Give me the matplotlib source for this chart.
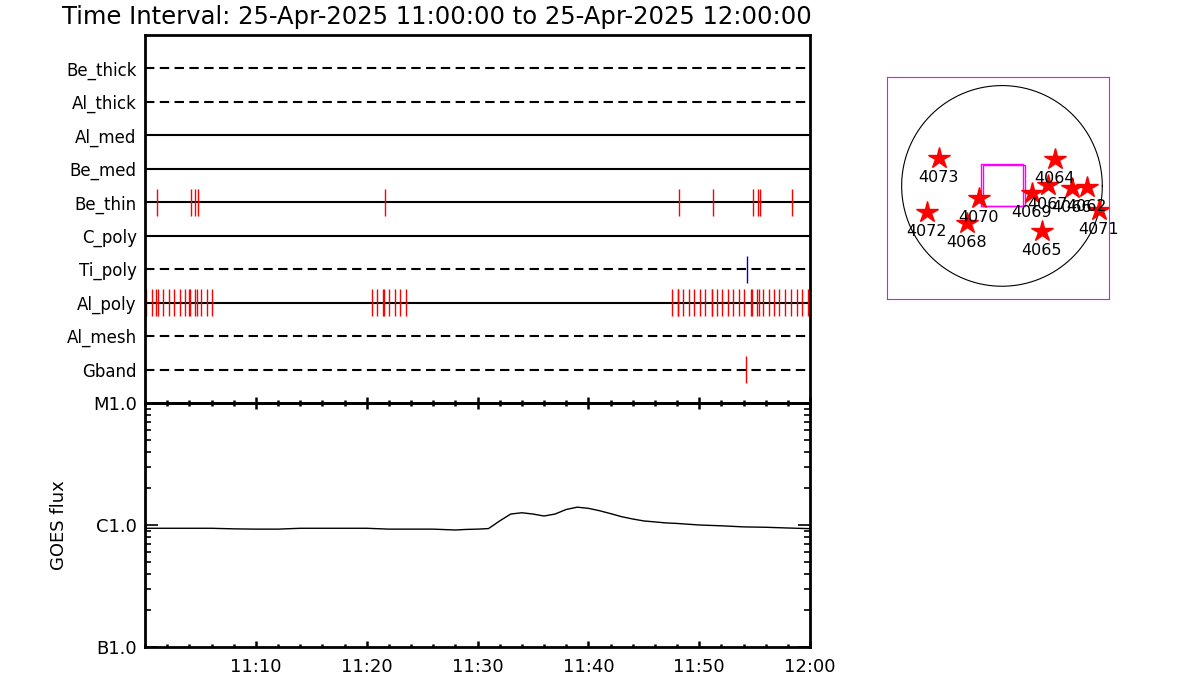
import matplotlib
matplotlib.use("Agg")
import matplotlib.pyplot as plt
from matplotlib.ticker import FixedLocator, NullFormatter, LogLocator
import numpy as np

# ---------------- data ----------------
title = "Time Interval: 25-Apr-2025 11:00:00 to 25-Apr-2025 12:00:00"

channels = ["Be_thick", "Al_thick", "Al_med", "Be_med", "Be_thin",
            "C_poly", "Ti_poly", "Al_poly", "Al_mesh", "Gband"]
channel_styles = ["dashed", "dashed", "solid", "solid", "solid",
                  "solid", "dashed", "solid", "dashed", "dashed"]

# event times, minutes after 11:00
be_thin_t = [1.11, 4.18, 4.51, 4.81, 21.68, 48.21, 51.28, 54.89, 55.34, 55.49, 58.41]
ti_poly_t = [54.35]
gband_t = [54.26]
al_poly_t = [0.09, 0.66, 1.02, 1.20, 1.65, 2.19, 2.64, 3.19, 3.64, 4.00, 4.09,
             4.54, 4.72, 5.08, 5.62, 6.07,
             20.51, 20.96, 21.50, 21.59, 22.04, 22.58, 23.03, 23.58,
             47.52, 48.06, 48.12, 48.57, 49.11, 49.56, 50.10, 50.55, 51.13,
             51.19, 51.64, 52.09, 52.63, 53.08, 53.62, 54.07, 54.71, 54.80,
             55.25, 55.43, 55.79, 56.33, 56.78, 57.23, 57.77, 58.31, 58.85,
             59.30, 59.85]
events = {"Be_thin": (be_thin_t, "red"),
          "Ti_poly": (ti_poly_t, "#0000cc"),
          "Gband": (gband_t, "red"),
          "Al_poly": (al_poly_t, "red")}

# GOES flux (W/m^2) vs minutes after 11:00
goes_t = [0, 2, 4, 6, 8, 10, 12, 14, 16, 18, 20, 22, 24, 26, 28, 29, 30, 31,
          32, 33, 34, 35, 36, 37, 38, 39, 40, 41, 42, 43, 44, 45, 46, 47, 48,
          50, 52, 54, 56, 58, 60]
goes_f = [0.94, 0.94, 0.94, 0.94, 0.93, 0.925, 0.925, 0.94, 0.94, 0.94, 0.94,
          0.925, 0.925, 0.925, 0.91, 0.92, 0.925, 0.935,
          1.08, 1.23, 1.26, 1.23, 1.185, 1.23, 1.34, 1.40, 1.37, 1.31, 1.24,
          1.17, 1.12, 1.08, 1.06, 1.04, 1.03,
          1.00, 0.985, 0.965, 0.958, 0.945, 0.933]
goes_f = [v * 1e-6 for v in goes_f]

xtick_vals = [10, 20, 30, 40, 50, 60]
xtick_labels = ["11:10", "11:20", "11:30", "11:40", "11:50", "12:00"]
ytick_vals = [1e-7, 1e-6, 1e-5]
ytick_labels = ["B1.0", "C1.0", "M1.0"]

# active regions (arcsec)
ar_names = ["4073", "4064", "4070", "4072", "4068", "4067", "4069",
            "4066", "4062", "4071", "4065"]
ar_x = [-606, 504, -223, -721, -338, 437, 284, 667, 811, 925, 380]
ar_y = [270, 260, -113, -247, -352, 11, -65, -17, -8, -228, -429]
sun_radius = 960
fov1_x = [-197, 201]
fov1_y = [-196, 210]
fov2_x = [-181, 224]
fov2_y = [-196, 197]

# ---------------- figure ----------------
plt.rcParams['font.family'] = ['DejaVu Sans']
fig = plt.figure(figsize=(12, 7), dpi=100)

fig.text(62 / 1200, 1 - 17 / 700, title, fontsize=17.5, ha='left', va='center')

# top panel
ax1 = fig.add_axes([145 / 1200, 1 - 403 / 700, 665 / 1200, 368 / 700])
n = len(channels)
ypos = [n - i for i in range(n)]
for name, ls, y in zip(channels, channel_styles, ypos):
    if ls == "dashed":
        ax1.plot([0, 60], [y, y], color='black', lw=1.5,
                 linestyle=(0, (4.5, 2.6)), solid_capstyle='butt')
    else:
        ax1.plot([0, 60], [y, y], color='black', lw=1.5)
    if name in events:
        t, c = events[name]
        ax1.vlines(t, y - 0.4, y + 0.4, color=c, lw=1.0)
ax1.set_xlim(0, 60)
ax1.set_ylim(0, n + 1)
ax1.set_yticks(ypos)
ax1.set_yticklabels(channels, fontsize=12)
ax1.tick_params(axis='y', length=0, pad=6)
ax1.set_xticks([])
for s in ax1.spines.values():
    s.set_linewidth(2.0)

# bottom panel
ax2 = fig.add_axes([145 / 1200, 1 - 647 / 700, 665 / 1200, 244 / 700])
ax2.plot(goes_t, goes_f, color='black', lw=1.0)
ax2.set_yscale('log')
ax2.set_xlim(0, 60)
ax2.set_ylim(1e-7, 1e-5)
ax2.yaxis.set_major_locator(FixedLocator(ytick_vals))
ax2.set_yticklabels(ytick_labels, fontsize=13)
ax2.yaxis.set_minor_locator(LogLocator(base=10, subs=np.arange(2, 10)))
ax2.yaxis.set_minor_formatter(NullFormatter())
ax2.set_xticks(xtick_vals)
ax2.set_xticklabels(xtick_labels, fontsize=13)
ax2.set_xticks(np.arange(0, 61, 2), minor=True)
ax2.tick_params(axis='y', which='major', direction='in', length=9, width=1.2,
                left=True, right=True, pad=6)
ax2.tick_params(axis='y', which='minor', direction='in', length=4.5, width=1.2,
                left=True, right=True)
ax2.tick_params(axis='x', which='major', direction='in', length=4.5, width=1.8,
                bottom=True, top=False, pad=8)
ax2.tick_params(axis='x', which='minor', direction='in', length=2.2, width=1.8,
                bottom=True, top=False)
# ticks on the shared boundary
axt = ax2.secondary_xaxis('top')
axt.set_xticks(xtick_vals)
axt.set_xticklabels([])
axt.set_xticks(np.arange(0, 61, 2), minor=True)
axt.tick_params(which='major', direction='inout', length=8.5, width=1.8)
axt.tick_params(which='minor', direction='inout', length=4, width=1.8)
axt.spines['top'].set_linewidth(2.0)
for s in ax2.spines.values():
    s.set_linewidth(2.0)
ax2.set_ylabel("GOES flux", fontsize=13)
ax2.yaxis.set_label_coords(-0.116, 0.5)

# right panel: solar disk map
ax3 = fig.add_axes([887 / 1200, 1 - 299 / 700, 222 / 1200, 222 / 700])
th = np.linspace(0, 2 * np.pi, 400)
ax3.plot(sun_radius * np.cos(th), sun_radius * np.sin(th), color='black', lw=0.8)
for fx, fy in [(fov1_x, fov1_y), (fov2_x, fov2_y)]:
    ax3.plot([fx[0], fx[1], fx[1], fx[0], fx[0]],
             [fy[0], fy[0], fy[1], fy[1], fy[0]], color='magenta', lw=1.0)
ax3.plot(ar_x, ar_y, linestyle='none', marker='*', markersize=16,
         color='red', markeredgecolor='red')
for nm, x, y in zip(ar_names, ar_x, ar_y):
    ax3.annotate(nm, (x, y), xytext=(0, -14), textcoords='offset points',
                 ha='center', va='center', fontsize=11.5)
ax3.set_xlim(-1100, 1024)
ax3.set_ylim(-1082, 1042)
ax3.set_xticks([])
ax3.set_yticks([])
for s in ax3.spines.values():
    s.set_color('magenta')
    s.set_linewidth(0.8)

fig.savefig("out.png", dpi=100)
